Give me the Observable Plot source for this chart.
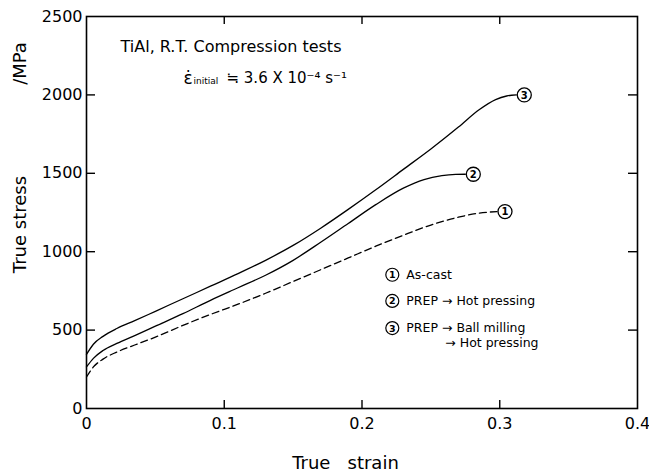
<!DOCTYPE html>
<html>
<head>
<meta charset="utf-8">
<script src="https://cdn.jsdelivr.net/npm/d3@7"></script>
<script src="https://cdn.jsdelivr.net/npm/@observablehq/plot@0.6"></script>
<style>
  html, body { margin: 0; padding: 0; background: #fff; }
  svg { display: block; }
</style>
</head>
<body>
<div id="chart"></div>
<script>
// ---- Data ----
const xTicks = [0, 0.1, 0.2, 0.3, 0.4];
const yTicks = [0, 500, 1000, 1500, 2000, 2500];

// (1) As-cast (dashed)
const strain1 = [0, 0.005, 0.012, 0.022, 0.035, 0.05, 0.07, 0.09, 0.11, 0.13, 0.15, 0.17, 0.19, 0.21, 0.23, 0.25, 0.27, 0.285, 0.298];
const stress1 = [201, 265, 315, 360, 405, 455, 530, 600, 665, 735, 810, 885, 960, 1035, 1105, 1170, 1220, 1246, 1256];

// (2) PREP -> Hot pressing
const strain2 = [0, 0.005, 0.012, 0.022, 0.035, 0.05, 0.07, 0.09, 0.11, 0.13, 0.15, 0.17, 0.19, 0.21, 0.23, 0.245, 0.258, 0.268, 0.275];
const stress2 = [265, 320, 370, 415, 465, 525, 605, 690, 770, 850, 945, 1060, 1180, 1300, 1405, 1460, 1485, 1493, 1494];

// (3) PREP -> Ball milling -> Hot pressing
const strain3 = [0, 0.005, 0.012, 0.022, 0.035, 0.05, 0.07, 0.09, 0.11, 0.13, 0.15, 0.17, 0.19, 0.21, 0.23, 0.25, 0.27, 0.285, 0.297, 0.305, 0.312];
const stress3 = [345, 410, 460, 510, 560, 620, 700, 780, 860, 945, 1040, 1150, 1270, 1395, 1525, 1655, 1795, 1905, 1970, 1993, 2000];

const curveIds = ["1", "2", "3"];
const legendLabels = ["As-cast", "PREP \u2192 Hot pressing", "PREP \u2192 Ball milling"];
const legendExtra = "\u2192 Hot pressing";
const titleLine1 = "TiAl, R.T. Compression tests";
const xLabel = "True   strain";
const yLabel = "True stress";
const yUnit = "/MPa";

// ---- Build tables ----
const mk = (id, xs, ys) => xs.map((x, i) => ({id, strain: x, stress: ys[i]}));
const c1 = mk("1", strain1, stress1);
const c2 = mk("2", strain2, stress2);
const c3 = mk("3", strain3, stress3);
const ends = [c1[c1.length - 1], c2[c2.length - 1], c3[c3.length - 1]];

// layout
const W = 649, H = 474;
const mL = 86, mR = 12, mT = 16, mB = 66;
const plotW = W - mL - mR, plotH = H - mT - mB;
const font = "DejaVu Sans, sans-serif";

// legend rows (placed in data space)
const legX = 0.222;
const legRows = curveIds.map((id, i) => ({id, label: legendLabels[i], y: [853, 686, 513][i]}));

const innerY = yTicks.filter(d => d > 0 && d < 2500);
const innerX = xTicks.filter(d => d > 0 && d < 0.4);

const chart = Plot.plot({
  width: W, height: H,
  marginLeft: mL, marginRight: mR, marginTop: mT, marginBottom: mB,
  style: {fontFamily: font, background: "#fff", color: "#000"},
  x: {domain: [0, 0.4]},
  y: {domain: [0, 2500]},
  marks: [
    Plot.frame({stroke: "#000", strokeWidth: 1.6}),
    // inward ticks
    Plot.ruleX(innerX, {x: d => d, insetTop: plotH - 8, stroke: "#000", strokeWidth: 1.4}),
    Plot.ruleX(innerX, {x: d => d, insetBottom: plotH - 8, stroke: "#000", strokeWidth: 1.4}),
    Plot.ruleY(innerY, {y: d => d, insetRight: plotW - 9, stroke: "#000", strokeWidth: 1.4}),
    Plot.ruleY(innerY, {y: d => d, insetLeft: plotW - 9, stroke: "#000", strokeWidth: 1.4}),
    Plot.axisX(xTicks, {tickSize: 0, tickPadding: 9, fontSize: 16, label: null, tickFormat: d => d === 0 ? "0" : String(d)}),
    Plot.axisY(yTicks, {tickSize: 0, tickPadding: 4, fontSize: 16, label: null, tickFormat: d => String(d)}),
    // curves
    Plot.line(c1, {x: "strain", y: "stress", stroke: "#000", strokeWidth: 1.3, strokeDasharray: "7,4", curve: "monotone-x"}),
    Plot.line(c2, {x: "strain", y: "stress", stroke: "#000", strokeWidth: 1.3, curve: "monotone-x"}),
    Plot.line(c3, {x: "strain", y: "stress", stroke: "#000", strokeWidth: 1.3, curve: "monotone-x"}),
    // circled ids at curve ends
    Plot.dot(ends, {x: "strain", y: "stress", r: 7, dx: 8, stroke: "#000", strokeWidth: 1.3, fill: "#fff"}),
    Plot.text(ends, {x: "strain", y: "stress", text: "id", dx: 8, dy: 0.5, fontSize: 10, fontWeight: "bold", fill: "#000"}),
    // legend
    Plot.dot(legRows, {x: () => legX, y: "y", r: 6.5, stroke: "#000", strokeWidth: 1.2, fill: "#fff"}),
    Plot.text(legRows, {x: () => legX, y: "y", text: "id", dy: 0.5, fontSize: 9.5, fontWeight: "bold", fill: "#000"}),
    Plot.text(legRows, {x: () => legX, y: "y", text: "label", dx: 14, textAnchor: "start", fontSize: 12.5, fill: "#000"}),
    Plot.text([legendExtra], {x: () => legX, y: () => 417, text: d => d, dx: 53, textAnchor: "start", fontSize: 12.5, fill: "#000"}),
    // title
    Plot.text([titleLine1], {x: () => 0.0247, y: () => 2305, text: d => d, textAnchor: "start", fontSize: 16, fill: "#000"}),
    Plot.text(["\u03b5\u0307"], {x: () => 0.0704, y: () => 2105, text: d => d, textAnchor: "start", fontSize: 17, fill: "#000"}),
    Plot.text(["initial"], {x: () => 0.0704, y: () => 2105, text: d => d, dx: 10, dy: 3, textAnchor: "start", fontSize: 9, fill: "#000"}),
    Plot.text(["\u2252 3.6 X 10\u207b\u2074 s\u207b\u00b9"], {x: () => 0.0704, y: () => 2105, text: d => d, dx: 43, textAnchor: "start", fontSize: 15, fill: "#000"}),
    // axis titles
    Plot.text([xLabel], {x: () => 0.188, frameAnchor: "bottom", text: d => d, dy: 55, lineAnchor: "middle", textAnchor: "middle", fontSize: 18, fill: "#000"}),
    Plot.text([yLabel], {y: () => 1173, frameAnchor: "left", text: d => d, dx: -66, rotate: -90, textAnchor: "middle", lineAnchor: "middle", fontSize: 18, fill: "#000"}),
    Plot.text([yUnit], {y: () => 2200, frameAnchor: "left", text: d => d, dx: -66, rotate: -90, textAnchor: "middle", lineAnchor: "middle", fontSize: 18, fill: "#000"})
  ]
});
document.getElementById("chart").appendChild(chart);
</script>
</body>
</html>
